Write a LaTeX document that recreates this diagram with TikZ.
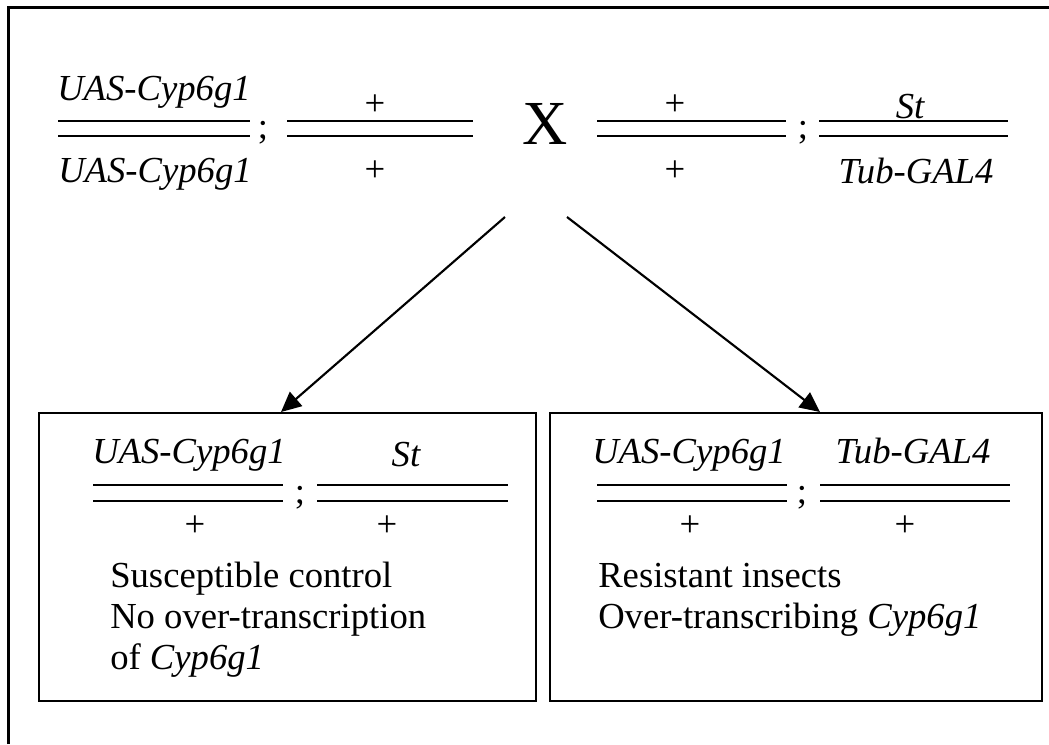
\documentclass[tikz,border=0pt]{standalone}
\usepackage{fontspec}
\setmainfont{Liberation Serif}
\usetikzlibrary{arrows.meta}
\tikzset{
  gtxt/.style={anchor=base, inner sep=0pt, font=\fontsize{27.5}{33}\selectfont\itshape},
  ptxt/.style={anchor=base, inner sep=0pt, font=\fontsize{27.5}{33}\selectfont},
  dline/.style={line width=1.7pt},
  boxst/.style={draw, line width=1.7pt, minimum height=216pt, inner sep=0pt},
  descr/.style={anchor=base west, inner sep=0pt, font=\fontsize{27.5}{33}\selectfont},
  arr/.style={line width=1.6pt, -{Triangle[length=15pt,width=14pt]}},
}
\begin{document}
\begin{tikzpicture}[x=0.75pt,y=-0.75pt]
\useasboundingbox (0,0) rectangle (1049,744);
% outer frame
\draw[line width=2.25pt] (8,744) -- (8,7) -- (1049,7);

% ---- top row ----
\node[gtxt] (a1) at (154,100) {UAS-Cyp6g1};
\node[gtxt] (a2) at (155,182) {UAS-Cyp6g1};
\draw[dline] (58,121) -- (250,121);
\draw[dline] (58,136) -- (250,136);
\node[ptxt] (s1) at (263,138) {;};
\node[ptxt] (b1) at (375,115) {+};
\node[ptxt] (b2) at (375,181) {+};
\draw[dline] (287,121) -- (473,121);
\draw[dline] (287,136) -- (473,136);

\node[anchor=base, inner sep=0pt, font=\fontsize{47}{50}\selectfont] (cross) at (545.5,144) {X};

\node[ptxt] (c1) at (675,115) {+};
\node[ptxt] (c2) at (675,181) {+};
\draw[dline] (597,121) -- (786,121);
\draw[dline] (597,136) -- (786,136);
\node[ptxt] (s2) at (803,138) {;};
\node[gtxt] (d1) at (910,118) {St};
\node[gtxt] (d2) at (916,183) {Tub-GAL4};
\draw[dline] (819,121) -- (1008,121);
\draw[dline] (819,136) -- (1008,136);

% ---- boxes ----
\node[boxst, minimum width=372.75pt] (boxL) at (287.5,557) {};
\node[boxst, minimum width=369pt] (boxR) at (796,557) {};

% arrows
\coordinate (aLs) at (505,217);
\coordinate (aLe) at (281,412);
\coordinate (aRs) at (567,217);
\coordinate (aRe) at (820,412);
\draw[arr] (aLs) -- (aLe);
\draw[arr] (aRs) -- (aRe);

% ---- left box content ----
\node[gtxt] (l1) at (189,463) {UAS-Cyp6g1};
\node[ptxt] (l2) at (195,536) {+};
\draw[dline] (93,485) -- (283,485);
\draw[dline] (93,501) -- (283,501);
\node[ptxt] (ls) at (300,503) {;};
\node[gtxt] (l3) at (406,466) {St};
\node[ptxt] (l4) at (387,536) {+};
\draw[dline] (317,485) -- (508,485);
\draw[dline] (317,501) -- (508,501);
\node[descr] (lt1) at (110,587) {Susceptible control};
\node[descr] (lt2) at (110,628) {No over-transcription};
\node[descr] (lt3) at (110,669) {of \textit{Cyp6g1}};

% ---- right box content ----
\node[gtxt] (r1) at (689,463) {UAS-Cyp6g1};
\node[ptxt] (r2) at (690,536) {+};
\draw[dline] (597,485) -- (787,485);
\draw[dline] (597,501) -- (787,501);
\node[ptxt] (rs) at (802,503) {;};
\node[gtxt] (r3) at (913,463) {Tub-GAL4};
\node[ptxt] (r4) at (905,536) {+};
\draw[dline] (820,485) -- (1010,485);
\draw[dline] (820,501) -- (1010,501);
\node[descr] (rt1) at (598,587) {Resistant insects};
\node[descr] (rt2) at (598,628) {Over-transcribing \textit{Cyp6g1}};
\end{tikzpicture}
\end{document}
